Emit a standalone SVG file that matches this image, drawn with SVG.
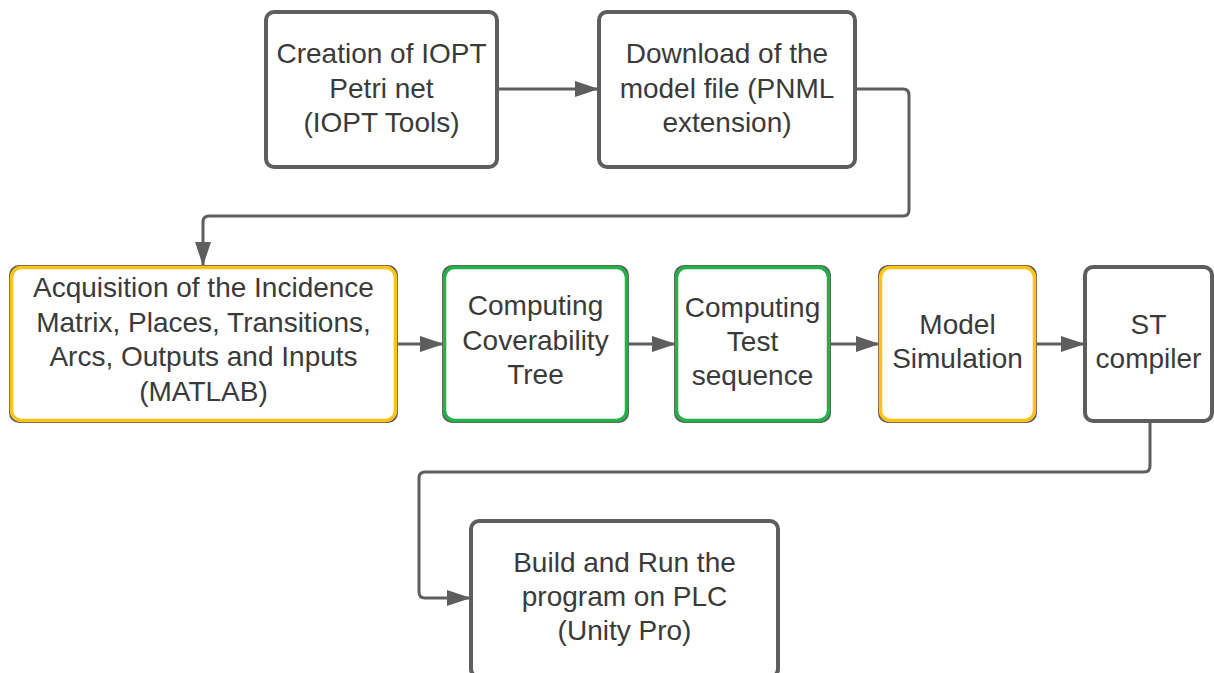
<svg xmlns="http://www.w3.org/2000/svg" width="1214" height="673" viewBox="0 0 1214 673">
  <style>
    .box { fill: #ffffff; stroke: #5e5e5e; stroke-width: 4; }
    .yellow { fill: none; stroke: #ffc413; stroke-width: 3.5; }
    .green { fill: none; stroke: #26b04a; stroke-width: 3.5; }
    .label { font-family: "Liberation Sans", Arial, sans-serif; font-size: 28px; fill: #3a3a3a; text-anchor: middle; }
    .conn { fill: none; stroke: #5e5e5e; stroke-width: 3; }
  </style>
  <defs>
    <marker id="arrow" viewBox="0 0 24 16" refX="23" refY="8" markerWidth="24" markerHeight="16" markerUnits="userSpaceOnUse" orient="auto">
      <path d="M0,0 L24,8 L0,16 Z" fill="#5e5e5e"/>
    </marker>
  </defs>
  <rect width="1214" height="673" fill="#ffffff"/>

  <g id="connectors">
    <path class="conn" d="M497,89 H598" marker-end="url(#arrow)"/>
    <path class="conn" d="M856,89 H903 Q909,89 909,95 V210 Q909,216 903,216 H209 Q203,216 203,222 V265" marker-end="url(#arrow)"/>
    <path class="conn" d="M396,344 H443" marker-end="url(#arrow)"/>
    <path class="conn" d="M627,344 H675" marker-end="url(#arrow)"/>
    <path class="conn" d="M829,344 H879" marker-end="url(#arrow)"/>
    <path class="conn" d="M1035,344 H1084" marker-end="url(#arrow)"/>
    <path class="conn" d="M1150,421 V466 Q1150,472 1144,472 H425 Q419,472 419,478 V592 Q419,598 425,598 H470" marker-end="url(#arrow)"/>
  </g>

  <g id="node-creation">
    <rect class="box" x="266" y="12" width="231" height="155" rx="8"/>
    <text class="label" x="381.5" y="63">Creation of IOPT</text>
    <text class="label" x="381.5" y="98">Petri net</text>
    <text class="label" x="381.5" y="132">(IOPT Tools)</text>
  </g>

  <g id="node-download">
    <rect class="box" x="599" y="12" width="256" height="155" rx="8"/>
    <text class="label" x="727" y="63">Download of the</text>
    <text class="label" x="727" y="98">model file (PNML</text>
    <text class="label" x="727" y="132">extension)</text>
  </g>

  <g id="node-acquisition">
    <rect class="box" x="11" y="267" width="385" height="154" rx="8"/>
    <rect class="yellow" x="11.5" y="267.5" width="384" height="153" rx="10"/>
    <text class="label" x="203.5" y="297">Acquisition of the Incidence</text>
    <text class="label" x="203.5" y="332">Matrix, Places, Transitions,</text>
    <text class="label" x="203.5" y="366">Arcs, Outputs and Inputs</text>
    <text class="label" x="203.5" y="401">(MATLAB)</text>
  </g>

  <g id="node-coverability">
    <rect class="box" x="444" y="267" width="183" height="154" rx="8"/>
    <rect class="green" x="444.5" y="267.5" width="182" height="153" rx="10"/>
    <text class="label" x="535.5" y="315">Computing</text>
    <text class="label" x="535.5" y="350">Coverability</text>
    <text class="label" x="535.5" y="384">Tree</text>
  </g>

  <g id="node-test-sequence">
    <rect class="box" x="676" y="267" width="153" height="154" rx="8"/>
    <rect class="green" x="676.5" y="267.5" width="152" height="153" rx="10"/>
    <text class="label" x="752.5" y="317">Computing</text>
    <text class="label" x="752.5" y="351">Test</text>
    <text class="label" x="752.5" y="385">sequence</text>
  </g>

  <g id="node-simulation">
    <rect class="box" x="880" y="267" width="155" height="154" rx="8"/>
    <rect class="yellow" x="880.5" y="267.5" width="154" height="153" rx="10"/>
    <text class="label" x="957.5" y="334">Model</text>
    <text class="label" x="957.5" y="368">Simulation</text>
  </g>

  <g id="node-st-compiler">
    <rect class="box" x="1085" y="267" width="127" height="154" rx="8"/>
    <text class="label" x="1148.5" y="334">ST</text>
    <text class="label" x="1148.5" y="368">compiler</text>
  </g>

  <g id="node-plc">
    <rect class="box" x="471" y="521" width="307" height="156" rx="8"/>
    <text class="label" x="624.5" y="572">Build and Run the</text>
    <text class="label" x="624.5" y="606">program on PLC</text>
    <text class="label" x="624.5" y="640">(Unity Pro)</text>
  </g>
</svg>
